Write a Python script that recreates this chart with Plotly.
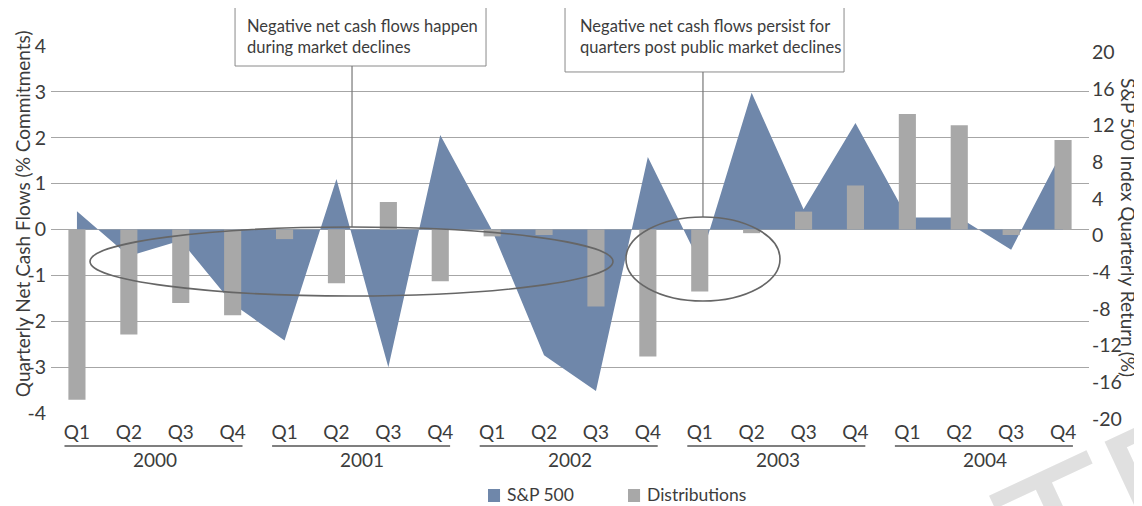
import plotly.graph_objects as go

# ---------------- data ----------------
quarters = ["Q1", "Q2", "Q3", "Q4"] * 5
years = ["2000", "2001", "2002", "2003", "2004"]
sp500 = [2.0, -2.9, -1.2, -8.1,
         -12.1, 5.5, -15.0, 10.3,
         -0.1, -13.7, -17.6, 7.9,
         -3.6, 14.9, 2.2, 11.6,
         1.3, 1.3, -2.2, 8.7]
distributions = [-3.71, -2.29, -1.60, -1.87,
                 -0.21, -1.17, 0.60, -1.13,
                 -0.15, -0.12, -1.68, -2.77,
                 -1.35, -0.08, 0.39, 0.96,
                 2.52, 2.27, -0.12, 1.95]
series_names = ["S&P 500", "Distributions"]
left_ticks = [-4, -3, -2, -1, 0, 1, 2, 3, 4]
left_ticktext = ["-4", "-3", "-2", "-1", "0", "1", "2", "3", "4"]
right_ticks = [-20, -16, -12, -8, -4, 0, 4, 8, 12, 16, 20]
right_ticktext = ["-20", "-16", "-12", "-8", "-4", "0", "4", "8", "12", "16", "20"]
note_left = "Negative net cash flows happen<br>during market declines"
note_right = "Negative net cash flows persist for<br>quarters post public market declines"

idx = list(range(len(quarters)))

FONT = "Lato, Roboto, sans-serif"
TXT = "#3c3c3c"
BLUE = "#6f87aa"
GREY = "#a8a8a8"

fig = go.Figure()

# S&P 500 area (right axis)
fig.add_trace(go.Scatter(
    x=idx, y=sp500, yaxis="y", mode="lines", fill="tozeroy",
    line=dict(width=0, color=BLUE), fillcolor=BLUE, name=series_names[0],
    showlegend=False, hoverinfo="skip"))
# Distributions bars (left axis), drawn above the area
fig.add_trace(go.Bar(
    x=idx, y=distributions, yaxis="y2", name=series_names[1],
    marker=dict(color=GREY, line=dict(width=0)), width=0.33,
    showlegend=False))

shapes = []
# watermark first so other annotations sit on top of it
annotations = [
    dict(xref="paper", yref="paper", x=0.968, y=-0.335, textangle=-25,
         text="CTF", showarrow=False, xanchor="center", yanchor="middle",
         font=dict(size=190, color="#e0e0e0", family="Liberation Sans")),
]

# year underline + labels
for i, yr in enumerate(years):
    shapes.append(dict(type="line", xref="x", yref="paper",
                       x0=4 * i - 0.24, x1=4 * i + 3.19, y0=-0.09, y1=-0.09,
                       line=dict(color="#555555", width=1.5), layer="above"))
    annotations.append(dict(xref="x", yref="paper", x=4 * i + 1.5, y=-0.128,
                            text=yr, showarrow=False, yanchor="middle",
                            font=dict(size=19, color=TXT, family=FONT)))

# callout boxes, leader lines, ellipses
shapes += [
    dict(type="rect", xref="paper", yref="paper", x0=0.1773, x1=0.4191,
         y0=0.9455, y1=1.1063, fillcolor="white",
         line=dict(color="#8a8a8a", width=1), layer="above"),
    dict(type="rect", xref="paper", yref="paper", x0=0.4952, x1=0.7640,
         y0=0.9292, y1=1.1063, fillcolor="white",
         line=dict(color="#8a8a8a", width=1), layer="above"),
    dict(type="line", xref="paper", yref="paper", x0=0.290, x1=0.290,
         y0=0.9455, y1=0.5068, line=dict(color="#777777", width=1.2), layer="above"),
    dict(type="line", xref="paper", yref="paper", x0=0.6281, x1=0.6281,
         y0=0.9292, y1=0.5341, line=dict(color="#777777", width=1.2), layer="above"),
    dict(type="circle", xref="paper", yref="paper", x0=0.0376, x1=0.5414,
         y0=0.3188, y1=0.5068, line=dict(color="#666666", width=1.6), layer="above"),
    dict(type="circle", xref="paper", yref="paper", x0=0.5539, x1=0.7023,
         y0=0.3052, y1=0.5341, line=dict(color="#666666", width=1.6), layer="above"),
]

# manual legend
legend_items = [(series_names[0], BLUE, 0.4210, 0.4374),
                (series_names[1], GREY, 0.5559, 0.5723)]
for name, col, sx, tx in legend_items:
    shapes.append(dict(type="rect", xref="paper", yref="paper",
                       x0=sx, x1=sx + 0.0116, y0=-0.2425, y1=-0.2071,
                       fillcolor=col, line=dict(width=0), layer="above"))
    annotations.append(dict(xref="paper", yref="paper", x=tx, y=-0.2234,
                            xanchor="left", yanchor="middle", text=name,
                            showarrow=False,
                            font=dict(size=17.5, color=TXT, family=FONT)))

annotations += [
    dict(xref="paper", yref="paper", x=0.1869, y=1.0259, xanchor="left",
         yanchor="middle", align="left", text=note_left, showarrow=False,
         font=dict(size=16.5, color=TXT, family=FONT)),
    dict(xref="paper", yref="paper", x=0.5077, y=1.0259, xanchor="left",
         yanchor="middle", align="left", text=note_right, showarrow=False,
         font=dict(size=16.5, color=TXT, family=FONT)),
    # axis titles
    dict(xref="paper", yref="paper", x=-0.0279, y=0.542, textangle=-90,
         text="Quarterly Net Cash Flows (% Commitments)", showarrow=False,
         xanchor="center", yanchor="middle",
         font=dict(size=19, color=TXT, family=FONT)),
    dict(xref="paper", yref="paper", x=1.0385, y=0.504, textangle=90,
         text="S&P 500 Index Quarterly Return (%)", showarrow=False,
         xanchor="center", yanchor="middle",
         font=dict(size=19, color=TXT, family=FONT)),
]

# the page body adds an 8px offset, so the figure is 8px smaller on each side
fig.update_layout(
    width=1134, height=498,
    margin=dict(l=43, r=53, t=38, b=93, autoexpand=False),
    paper_bgcolor="white", plot_bgcolor="white",
    barmode="overlay", showlegend=False,
    font=dict(family=FONT, color=TXT, size=19),
    xaxis=dict(range=[-0.5, 19.5], tickvals=idx, ticktext=quarters,
               showgrid=False, zeroline=False, showline=False, ticks="",
               ticklabelstandoff=6, tickfont=dict(size=19, color=TXT)),
    yaxis=dict(side="right", range=[-20, 20], tickvals=right_ticks,
               ticktext=right_ticktext,
               showgrid=False, zeroline=False, showline=False, ticks="",
               ticklabelshift=6, ticklabelstandoff=2,
               tickfont=dict(size=19.5, color=TXT)),
    yaxis2=dict(side="left", overlaying="y", range=[-4, 4], tickvals=left_ticks,
                ticktext=left_ticktext,
                showgrid=True, gridcolor="#a6a6a6", gridwidth=1.2,
                zeroline=False, showline=False, ticks="",
                ticklabelstandoff=4, tickfont=dict(size=19.5, color=TXT)),
    shapes=shapes, annotations=annotations,
)

fig.write_html("out.html")
